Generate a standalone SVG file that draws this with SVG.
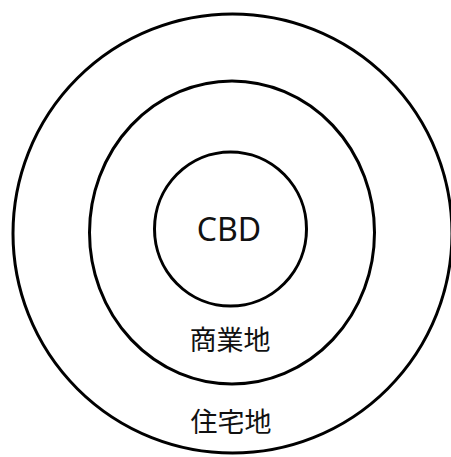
<svg xmlns="http://www.w3.org/2000/svg" width="451" height="457" viewBox="0 0 451 457">
<style>
.ring{fill:none;stroke:#000;stroke-width:3}
.lbl{font-family:"Noto Sans","Noto Sans CJK JP",sans-serif;fill:#111;text-anchor:middle}
</style>
<rect width="451" height="457" fill="#fff"/>
<g id="outer"><ellipse class="ring" cx="232.5" cy="233.5" rx="219.5" ry="219.5"/>
<text class="lbl" x="231" y="432" font-size="27">住宅地</text></g>
<g id="middle"><ellipse class="ring" cx="232" cy="232.5" rx="142.5" ry="151.5"/>
<text class="lbl" x="230" y="350" font-size="27">商業地</text></g>
<g id="inner"><ellipse class="ring" cx="230.5" cy="229" rx="76" ry="77"/>
<text class="lbl" x="229" y="241" font-size="32">CBD</text></g>
<g id="connectors"/>
</svg>
